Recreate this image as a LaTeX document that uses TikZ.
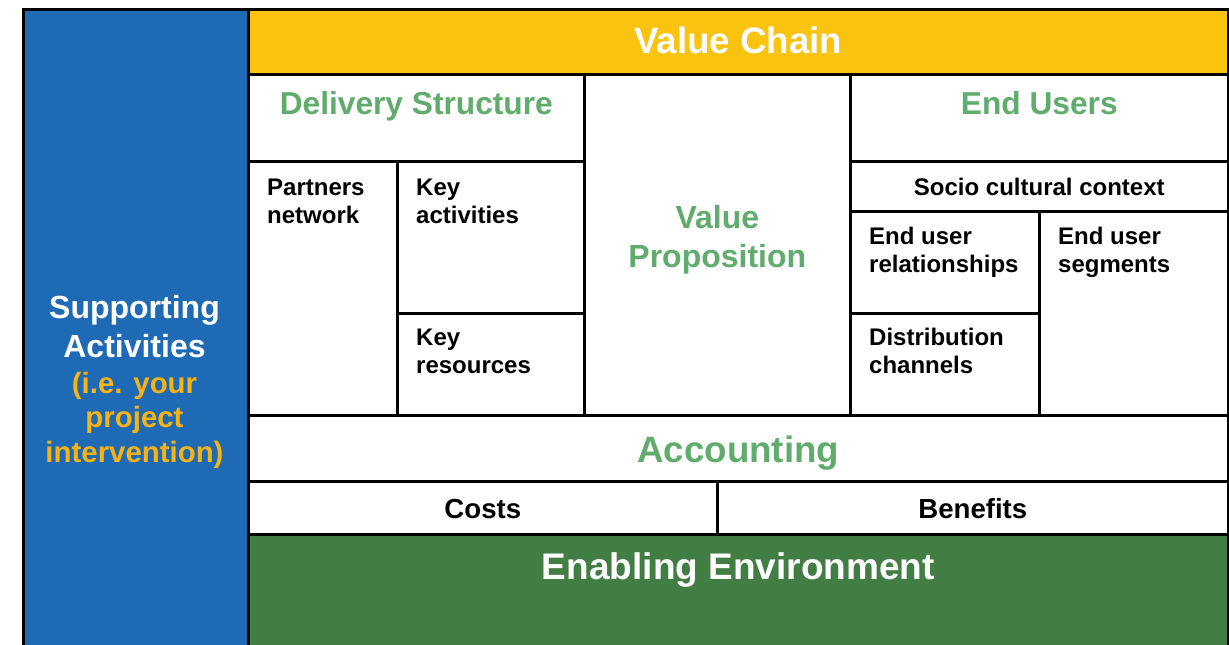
\documentclass[tikz,border=0pt]{standalone}
\usepackage{fontspec}
\setmainfont{Liberation Sans}
\definecolor{supblue}{RGB}{31,106,180}
\definecolor{vcyellow}{RGB}{250,195,15}
\definecolor{envgreen}{RGB}{66,126,68}
\definecolor{txtgreen}{RGB}{96,172,108}
\definecolor{txtorange}{RGB}{247,178,20}
\tikzset{
  cellbox/.style={draw=black, line width=2.6pt, rectangle, inner sep=0pt, anchor=north west},
  bigtitle/.style={font=\fontsize{36.7}{44}\selectfont\bfseries, inner sep=0pt, anchor=base},
  midtitle/.style={font=\fontsize{31.7}{39}\selectfont\bfseries, text=txtgreen, inner sep=0pt, anchor=base},
  smalltext/.style={font=\fontsize{24}{28}\selectfont\bfseries, inner sep=0pt, anchor=base west, align=left},
  cbtext/.style={font=\fontsize{27.6}{33}\selectfont\bfseries, inner sep=0pt, anchor=base},
}
\newcommand\mkcell[6]{\node[cellbox, fill=#6, minimum width={(#4-#2)*1pt}, minimum height={(#5-#3)*1pt}] (#1) at (#2,#3) {};}
\begin{document}
\begin{tikzpicture}[x=1pt,y=-1pt]
\useasboundingbox (0,0) rectangle (1229,645);
\begin{scope}
\clip (0,0) rectangle (1229,645);
\mkcell{sup}{22}{8}{247}{680}{supblue}
\mkcell{vc}{247}{8}{1227}{73}{vcyellow}
\mkcell{ds}{247}{73}{583}{160}{white}
\mkcell{pn}{247}{160}{396}{414}{white}
\mkcell{ka}{396}{160}{583}{312}{white}
\mkcell{kr}{396}{312}{583}{414}{white}
\mkcell{vp}{583}{73}{849}{414}{white}
\mkcell{eu}{849}{73}{1227}{160}{white}
\mkcell{sc}{849}{160}{1227}{210}{white}
\mkcell{eur}{849}{210}{1038}{312}{white}
\mkcell{dc}{849}{312}{1038}{414}{white}
\mkcell{eus}{1038}{210}{1227}{414}{white}
\mkcell{acc}{247}{414}{1227}{480}{white}
\mkcell{co}{247}{480}{716}{533}{white}
\mkcell{be}{716}{480}{1227}{533}{white}
\mkcell{ee}{247}{533}{1227}{680}{envgreen}
\end{scope}
% texts
\node[bigtitle, text=white] (tvc) at ([shift={(0,45)}]vc.north) {Value Chain};
\node[midtitle] (tds) at ([shift={(0,41)}]ds.north) {Delivery Structure};
\node[midtitle] (teu) at ([shift={(0,41)}]eu.north) {End Users};
\node[midtitle, align=center, font=\fontsize{32}{39}\selectfont\bfseries] (tvp) at ([shift={(0,194)}]vp.north) {Value\\Proposition};
\node[smalltext] (tpn) at ([shift={(20,63)}]pn.north west) {Partners\\network};
\node[smalltext] (tka) at ([shift={(20,63)}]ka.north west) {Key\\activities};
\node[smalltext] (tkr) at ([shift={(20,61)}]kr.north west) {Key\\resources};
\node[smalltext, anchor=base] (tsc) at ([shift={(0,35)}]sc.north) {Socio cultural context};
\node[smalltext] (teur) at ([shift={(20,62)}]eur.north west) {End user\\relationships};
\node[smalltext] (tdc) at ([shift={(20,61)}]dc.north west) {Distribution\\channels};
\node[smalltext] (teus) at ([shift={(20,62)}]eus.north west) {End user\\segments};
\node[bigtitle, text=txtgreen] (tacc) at ([shift={(0,48)}]acc.north) {Accounting};
\node[cbtext] (tco) at ([shift={(0,38)}]co.north) {Costs};
\node[cbtext] (tbe) at ([shift={(0,38)}]be.north) {Benefits};
\node[bigtitle, text=white, font=\fontsize{37}{44}\selectfont\bfseries] (tee) at ([shift={(0,46)}]ee.north) {Enabling Environment};
\node[inner sep=0pt, anchor=base, align=center, text=white, font=\fontsize{32}{39}\selectfont\bfseries] (tsupa) at (134.5,357) {Supporting\\Activities};
\node[inner sep=0pt, anchor=base, align=center, text=txtorange, font=\fontsize{29.4}{34.5}\selectfont\bfseries] (tsupb) at (134.5,462) {(i.e. your\\project\\intervention)};
\end{tikzpicture}
\end{document}
